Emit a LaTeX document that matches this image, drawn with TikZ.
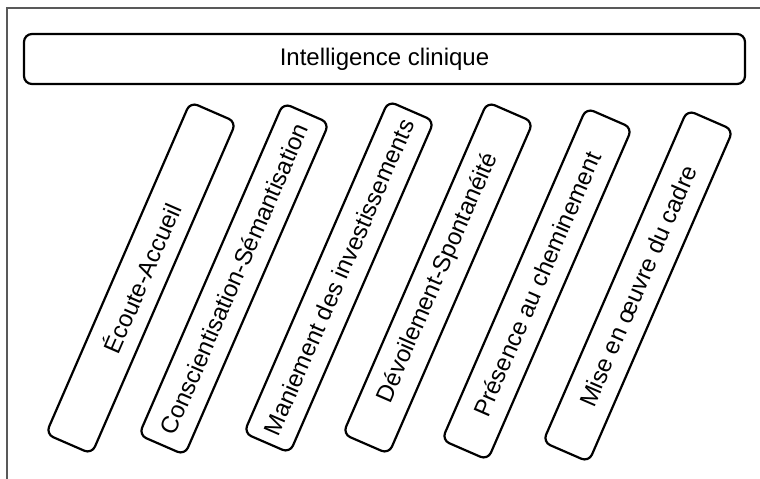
\documentclass[tikz,border=0pt]{standalone}
\usepackage{fontspec}
\setmainfont{Liberation Sans}
\begin{document}
\begin{tikzpicture}[x=1pt, y=-1pt,
  banner/.style={draw, line width=2.2pt, rounded corners=8pt, minimum width=721pt, minimum height=50pt, inner sep=0pt, font=\fontsize{24}{28}\selectfont},
  pillar/.style={draw, line width=2.2pt, rounded corners=8pt, minimum width=362pt, minimum height=50pt, inner sep=0pt, rotate=66.5, font=\fontsize{24}{28}\selectfont}]
  \useasboundingbox (0,0) rectangle (760,479);

  % frame
  \draw[line width=1.5pt, black!65] (7,479) -- (7,8) -- (760,8);

  \node[banner] (title) at (384.5,59) {Intelligence clinique};

  \node[pillar] (ecoute)   at (141,278) {Écoute-Accueil};
  \node[pillar] (conscien) at (234,279) {Conscientisation-Sémantisation};
  \node[pillar] (maniement) at (339,277) {Maniement des investissements};
  \node[pillar] (devoil)   at (438,278) {Dévoilement-Spontanéité};
  \node[pillar] (presence) at (537,284) {Présence au cheminement};
  \node[pillar] (cadre)    at (638,286) {Mise en œuvre du cadre};
\end{tikzpicture}
\end{document}
